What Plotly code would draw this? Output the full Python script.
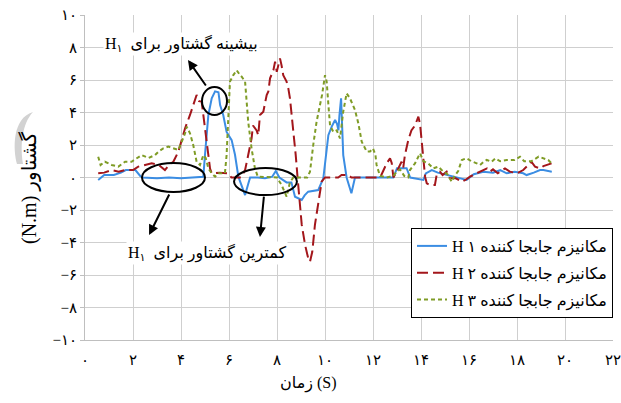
import plotly.graph_objects as go

# ---------------- data ----------------
h1_t = [0.55, 0.8, 1.2, 1.5, 1.7, 2.1, 2.3, 2.4, 3.0, 3.5, 4.0, 4.5, 4.93, 5.0, 5.14, 5.28, 5.42, 5.56, 5.63,
        5.76, 5.9, 6.11, 6.25, 6.39, 6.53, 6.67, 6.8, 6.88, 7.2, 7.5, 7.8, 7.95, 8.1, 8.4, 8.6, 8.75, 9.03,
        9.15, 9.3, 9.5, 9.72, 9.93, 10.07, 10.14, 10.28, 10.42, 10.5, 10.56, 10.6, 10.67, 10.76, 10.9, 11.1,
        11.25, 12.0, 12.85, 13.0, 13.4, 13.55, 14.1, 14.2, 14.45, 14.7, 15.07, 15.5, 15.9, 16.2, 16.6, 17.0,
        17.3, 17.57, 17.9, 18.26, 18.4, 18.7, 18.96, 19.1, 19.45]
h1_v = [-0.15, 0.15, 0.15, 0.3, 0.46, 0.46, 0.1, 0.0, -0.05, 0.0, -0.05, 0.0, 0.05, 1.4, 3.85, 4.87, 5.3, 5.25, 4.46,
        3.85, 2.8, 2.3, 1.4, 0.05, -0.5, -1.08, -0.4, 0.0, 0.0, -0.05, 0.05, 0.4, 0.0, -0.3, -0.3, -1.18, -1.38,
        -1.1, -0.87, -0.8, -0.77, -0.05, 1.59, 2.6, 3.13, 3.54, 3.3, 2.9, 3.8, 4.87, 1.38, 0.0, -0.97,
        0.0, 0.0, 0.0, 0.57, 0.57, 0.0, -0.15, 0.25, 0.45, 0.3, 0.15, 0.0, -0.15, 0.2, 0.35, 0.3,
        0.45, 0.26, 0.35, 0.26, 0.15, 0.3, 0.46, 0.46, 0.36]

h2_t = [0.55, 0.8, 1.1, 1.4, 1.67, 2.0, 2.22, 2.5, 2.78, 3.05, 3.33, 3.5, 3.68, 3.89, 4.17, 4.375, 4.51, 4.65,
        4.75, 4.86, 4.93, 5.0, 5.07, 5.14, 5.21, 5.28, 5.6, 5.97, 6.1, 6.5, 6.67, 6.8, 6.94, 7.0, 7.15, 7.22,
        7.29, 7.43, 7.57, 7.64, 7.71, 7.85, 7.92, 7.99, 8.125, 8.19, 8.26, 8.4, 8.47, 8.54, 8.68, 8.78, 8.86,
        8.96, 9.03, 9.17, 9.3, 9.375, 9.47, 9.58, 9.72, 9.86, 10.0, 10.55, 10.69, 10.97, 11.1, 12.3, 12.57,
        12.71, 12.78, 12.85, 13.0, 13.19, 13.26, 13.33, 13.47, 13.6, 13.75, 13.82, 13.89, 13.96, 14.03, 14.1,
        14.17, 14.24, 14.375, 14.58, 14.65, 14.79, 14.9, 15.07, 15.2, 15.45, 15.7, 15.85, 16.04, 16.32, 16.6,
        16.75, 16.875, 17.0, 17.2, 17.5, 17.7, 18.0, 18.26, 18.47, 18.6, 18.75, 18.96, 19.1, 19.24, 19.44]
h2_v = [0.26, 0.3, 0.46, 0.35, 0.46, 0.46, 0.67, 0.77, 0.87, 0.8, 0.46, 0.77, 0.97, 1.59, 3.03, 3.85, 4.46, 5.08,
        4.7, 4.67, 3.85, 3.0, 2.2, 1.38, 0.55, 0.26, 0.3, 0.26, 0.0, 0.0, 0.46, 1.38, 2.4, 3.2, 2.9, 2.6,
        3.85, 4.05, 5.08, 5.3, 6.1, 6.6, 7.13, 6.5, 7.33, 6.9, 6.3, 5.9, 5.5, 4.87, 3.03, 1.38, -0.05,
        -1.69, -2.9, -4.15, -4.97, -5.18, -4.57, -2.92, -1.49, -0.26, 0.0, 0.0, 0.15, 0.15, 0.0, 0.0, 0.87,
        1.18, 0.9, 0.0, 0.4, 0.97, 0.6, 1.38, 2.3, 2.9, 3.2, 3.54, 3.74, 3.3, 2.3, 1.0,
        0.05, -0.36, -0.46, -0.46, 0.15, 0.36, 0.15, 0.36, -0.05, -0.05, -0.26, -0.15, 0.05, 0.26, 0.46,
        0.56, 0.36, 0.5, 0.26, 0.56, 0.36, 0.26, 0.46, 0.77, 0.97, 0.67, 0.56, 0.7, 0.77, 0.87]

h3_t = [0.55, 0.65, 0.83, 1.11, 1.39, 1.67, 1.94, 2.15, 2.36, 2.65, 2.92, 3.06, 3.26, 3.47, 3.68, 3.89, 4.03,
        4.17, 4.24, 4.375, 4.51, 4.65, 4.79, 4.86, 4.93, 5.03, 5.14, 5.28, 5.42, 5.56, 5.83, 5.9, 5.97, 6.04,
        6.18, 6.32, 6.46, 6.53, 6.67, 6.8, 6.94, 7.08, 7.2, 8.0, 8.19, 8.4, 8.54, 8.68, 9.26, 9.375, 9.51,
        9.65, 9.79, 9.88, 10.0, 10.07, 10.14, 10.21, 10.35, 10.49, 10.625, 10.76, 10.9, 11.04, 11.25, 11.39,
        11.53, 11.74, 11.875, 12.0, 12.1, 12.15, 12.29, 12.57, 12.85, 12.99, 13.125, 13.3, 13.47, 13.54,
        13.75, 13.96, 14.1, 14.3, 14.51, 14.72, 14.93, 15.1, 15.28, 15.4, 15.55, 15.7, 15.9, 16.1, 16.32,
        16.46, 16.6, 16.74, 16.94, 17.1, 17.3, 17.57, 17.9, 18.125, 18.3, 18.6, 18.9, 19.1, 19.3, 19.44]
h3_v = [1.28, 0.77, 0.97, 0.77, 0.67, 0.97, 0.97, 1.18, 1.38, 1.2, 1.38, 1.59, 1.79, 1.9, 1.79, 1.69, 2.2,
        2.72, 3.13, 2.72, 2.0, 0.97, 0.77, 1.08, 1.38, 1.2, 0.56, 0.26, 0.05, 0.26, 0.26, 1.38, 3.44, 5.9,
        6.3, 6.6, 6.3, 6.2, 5.9, 3.44, 1.79, 0.56, 0.05, 0.0, -0.46, -1.18, -0.3, 0.0, 0.0, 0.36, 2.0,
        3.44, 4.46, 5.1, 6.3, 5.9, 4.5, 3.2, 2.8, 2.9, 2.4, 4.05, 5.18, 4.87, 4.15, 3.33,
        2.2, 1.59, 1.6, 1.79, 1.4, 0.77, 0.1, 0.0, 0.1, 0.36, 0.5, 0.1, 0.0, 0.46,
        0.87, 1.49, 1.0, 0.87, 0.56, 0.67, 0.36, 0.2, -0.26, 0.1, 0.4, 1.08, 1.18, 1.0, 0.87,
        0.77, 0.95, 1.08, 0.97, 1.18, 1.0, 1.08, 1.08, 1.28, 1.0, 1.0, 1.28, 1.18, 1.08, 0.87]

x_tickvals = [0, 2, 4, 6, 8, 10, 12, 14, 16, 18, 20, 22]
x_ticktext = ["۰", "۲", "۴", "۶", "۸", "۱۰", "۱۲", "۱۴", "۱۶", "۱۸", "۲۰", "۲۲"]
y_tickvals = [10, 8, 6, 4, 2, 0, -2, -4, -6, -8, -10]
y_ticktext = ["۱۰", "۸", "۶", "۴", "۲", "۰", "−۲", "−۴", "−۶", "−۸", "−۱۰"]

series_names = ["H ۱\u200e مکانیزم جابجا کننده",
                "H ۲\u200e مکانیزم جابجا کننده",
                "H ۳\u200e مکانیزم جابجا کننده"]

FONT = "Liberation Serif, DejaVu Sans, serif"

# ---------------- figure ----------------
fig = go.Figure()
fig.add_trace(go.Scatter(x=h1_t, y=h1_v, mode="lines", name=series_names[0], legendgroup="a",
                         line=dict(color="#3b8de3", width=2)))
fig.add_trace(go.Scatter(x=h2_t, y=h2_v, mode="lines", name=series_names[1], legendgroup="b",
                         line=dict(color="#a3161b", width=2, dash="11px,5px")))
fig.add_trace(go.Scatter(x=h3_t, y=h3_v, mode="lines", name=series_names[2], legendgroup="c",
                         line=dict(color="#7f9c26", width=2, dash="4px,3px")))

L, R, T, B = 85, 8, 15, 63
W, H = 621, 403
PW, PH = W - L - R, H - T - B


def px(xp):
    return (xp - L) / PW


def py(yp):
    return (H - B - yp) / PH


# ellipses
ell = [(4.875, 5.917, 3.85, 5.57), (2.375, 5.0, -0.89, 0.89), (6.21, 8.83, -1.08, 0.58)]
for x0, x1, y0, y1 in ell:
    fig.add_shape(type="circle", xref="x", yref="y", x0=x0, x1=x1, y0=y0, y1=y1,
                  line=dict(color="black", width=2), layer="above")

# arrows (head x,y ; tail ax,ay)
arrows = [(4.29, 7.23, 5.08, 5.57), (2.67, -3.54, 3.54, -0.95), (7.29, -3.66, 7.46, -1.08)]
for hx, hy, tx, ty in arrows:
    fig.add_annotation(x=hx, y=hy, ax=tx, ay=ty, xref="x", yref="y", axref="x", ayref="y",
                       text="", showarrow=True, arrowhead=2, arrowsize=1, arrowwidth=2, arrowcolor="black")

fig.add_annotation(x=4.04, y=8.2, xref="x", yref="y", showarrow=False,
                   text="H<sub>۱</sub>\u200e  بیشینه گشتاور برای", bgcolor="white",
                   font=dict(family=FONT, size=16, color="black"))
fig.add_annotation(x=5.08, y=-4.65, xref="x", yref="y", showarrow=False,
                   text="H<sub>۱</sub>\u200e  کمترین گشتاور برای", bgcolor="white",
                   font=dict(family=FONT, size=16, color="black"))

# axis titles
fig.add_annotation(x=px(308), y=py(383), xref="paper", yref="paper", showarrow=False,
                   xanchor="center", yanchor="middle",
                   text="زمان (S)", font=dict(family=FONT, size=16, color="black"))
fig.add_annotation(x=px(29), y=py(188), xref="paper", yref="paper", showarrow=False, textangle=-90,
                   xanchor="center", yanchor="middle",
                   text="(N.m) گشتاور", font=dict(family=FONT, size=20, color="black"))

# decorative grey crescent near y title
def pt(a, b):
    return f"{px(a):.4f},{py(b):.4f}"

path = (f"M {pt(33,112)} C {pt(12,118)} {pt(13,150)} {pt(17,164)} L {pt(23,164)} "
        f"C {pt(20,145)} {pt(22,124)} {pt(33,112)} Z")
fig.add_shape(type="path", xref="paper", yref="paper", path=path,
              fillcolor="#d2d2d2", line=dict(width=0), layer="below")

fig.update_layout(
    width=W, height=H,
    margin=dict(l=L, r=R, t=T, b=B, autoexpand=False),
    paper_bgcolor="white", plot_bgcolor="white",
    font=dict(family=FONT, size=15, color="black"),
    showlegend=True,
    legend=dict(x=1, xanchor="right", y=py(228), yanchor="top",
                bordercolor="black", borderwidth=1, bgcolor="white",
                font=dict(family=FONT, size=16, color="black"),
                tracegroupgap=3, itemwidth=30),
)
fig.update_xaxes(range=[0, 22], tickvals=x_tickvals, ticktext=x_ticktext,
                 showgrid=True, gridcolor="#cfcfcf", gridwidth=1, zeroline=False,
                 showline=True, linecolor="#bfbfbf", ticks="", ticklabelstandoff=6,
                 ticklabeloverflow="allow", tickfont=dict(size=15))
fig.update_yaxes(range=[-10, 10], tickvals=y_tickvals, ticktext=y_ticktext,
                 showgrid=True, gridcolor="#cfcfcf", gridwidth=1, zeroline=False,
                 showline=True, linecolor="#bfbfbf", ticks="outside", ticklen=4, tickcolor="#bfbfbf",
                 tickfont=dict(size=15))

fig.write_html("out.html")
